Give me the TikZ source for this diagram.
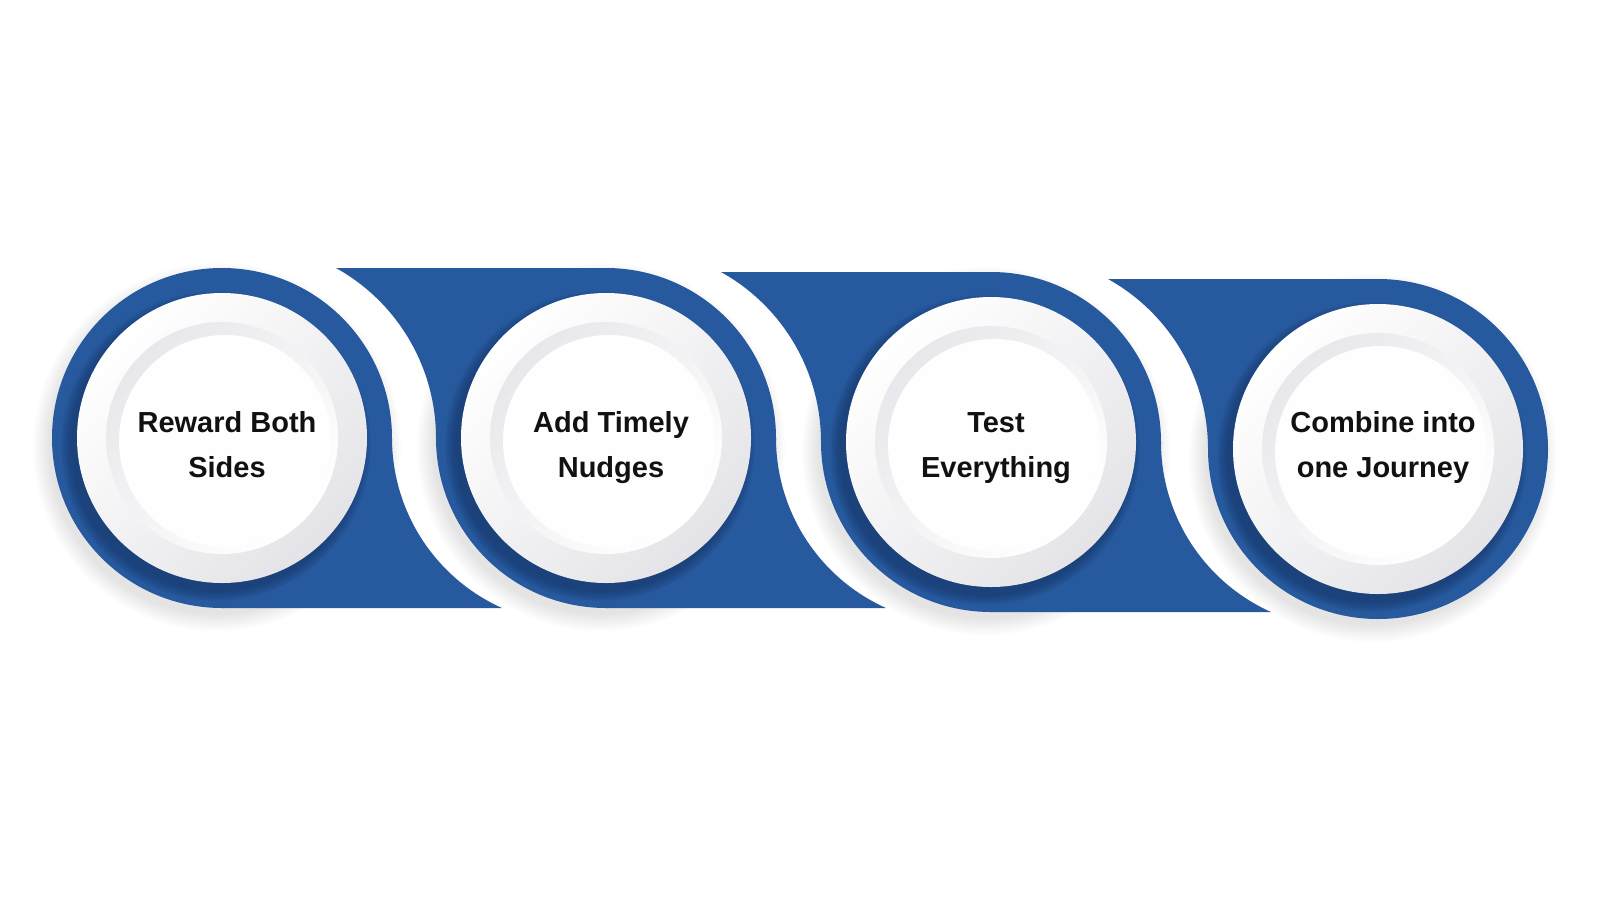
\documentclass[tikz,border=0pt]{standalone}
\usepackage{fontspec}
\setmainfont{Liberation Sans}
\definecolor{bandblue}{HTML}{26599D}
\definecolor{deepblue}{HTML}{17386A}
\definecolor{rimgray}{HTML}{E4E4E8}
\definecolor{innergray}{HTML}{E8E8EC}
\definecolor{platewhite}{HTML}{FEFEFE}
\definecolor{inktext}{HTML}{111111}
\begin{document}
\begin{tikzpicture}[x=0.5pt,y=-0.5pt,
  lbl/.style={font=\fontsize{14.5}{22.5}\selectfont\bfseries, align=center, text=inktext, inner sep=0pt},
  blueshape/.style={fill=bandblue},
  outershadow/.style={fill=black, opacity=0.011},
  innershadow/.style={fill=deepblue, opacity=0.13}]
\useasboundingbox (0,0) rectangle (1600,900);
\fill[white] (0,0) rectangle (1600,900);
% soft outer shadows
\foreach \cx/\cy in {222/438,606/438,991/442,1378/449}{
  \foreach \k in {0,2,...,16}
    \fill[outershadow] (\cx-5,\cy+9) circle[radius=168+\k];
}
% blue circles
\foreach \cx/\cy in {222/438,606/438,991/442,1378/449}
  \fill[blueshape] (\cx,\cy) circle[radius=170];
% top-left tabs
\foreach \cx/\cy in {606/438,991/442,1378/449}
  \fill[blueshape] (\cx,\cy-170) -- (\cx-270,\cy-170)
     arc[start angle=-60.93,end angle=0,radius=194.5] -- (\cx,\cy) -- cycle;
% bottom-right tabs
\foreach \cx/\cy in {222/438,606/438,991/442}
  \fill[blueshape] (\cx,\cy) -- (\cx+170,\cy)
     arc[start angle=180,end angle=114.2,radius=186.4] -- (\cx,\cy+170) -- cycle;
% plates
\foreach \cx/\cy/\n/\t in {222/438/1/{Reward Both\\\strut Sides},
                           606/438/2/{Add Timely\\\strut Nudges},
                           991/442/3/{Test\\\strut Everything},
                           1378/449/4/{Combine into\\\strut one Journey}}{
  \foreach \k in {0,...,6}
    \fill[innershadow] (\cx-6,\cy+8) circle[radius=145+\k*1.6];
  \shade[top color=white, bottom color=rimgray, shading angle=45]
    (\cx,\cy) circle[radius=145];
  \shade[top color=innergray, bottom color=white, shading angle=45]
    (\cx,\cy) circle[radius=116];
  \fill[platewhite] (\cx+3,\cy+3) circle[radius=106];
  \node[lbl] (t\n) at (\cx+5,445.5) {\strut\t};
}
\end{tikzpicture}
\end{document}
